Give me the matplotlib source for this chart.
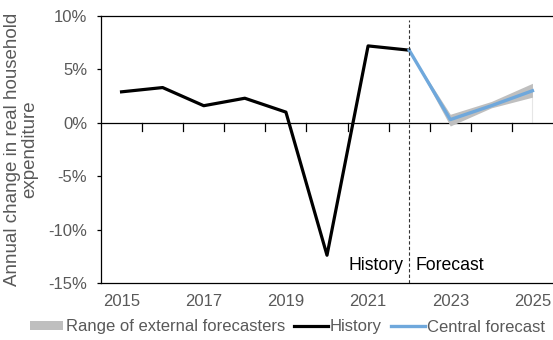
import matplotlib.pyplot as plt
import numpy as np

plt.rcParams['font.family'] = ['Liberation Sans', 'DejaVu Sans']
plt.rcParams['font.size'] = 12

# annual change in real household expenditure, %
hist_years = [2015, 2016, 2017, 2018, 2019, 2020, 2021, 2022]
hist_vals = [2.9, 3.3, 1.6, 2.3, 1.0, -12.4, 7.2, 6.8]

fc_years = [2022, 2023, 2024, 2025]
fc_central = [6.8, 0.3, 1.6, 3.0]
fc_low = [6.8, -0.3, 1.4, 2.4]
fc_high = [6.8, 0.8, 2.0, 3.7]

yticks = [10, 5, 0, -5, -10, -15]
xticks = [2015, 2017, 2019, 2021, 2023, 2025]

txt = '#595959'
fig = plt.figure(figsize=(5.53, 3.40), dpi=100)
ax = fig.add_axes([101 / 553, 57 / 340, 452 / 553, 267 / 340])

ax.fill_between(fc_years, fc_low, fc_high, color='#bfbfbf', lw=0,
                label='Range of external forecasters', zorder=2)
ax.plot([fc_years[-1]] * 2, [0, fc_low[-1]], color='#e6e6e6', lw=0.8, zorder=1)
ax.plot(hist_years, hist_vals, color='black', lw=2.3, label='History', zorder=3)
ax.plot(fc_years, fc_central, color='#6fa8dc', lw=2.4, label='Central forecast', zorder=4)

ax.axvline(2022, ymax=0.985, color='#333333', lw=0.8, ls=(0, (3, 2)), zorder=5)
ax.axhline(0, color='black', lw=0.9, zorder=1)
# category boundary ticks on the zero line
for b in np.arange(2015.5, 2025.5, 1):
    ax.plot([b, b], [0, -0.75], color='black', lw=0.9, zorder=1)

ax.text(2021.85, -13.4, 'History', ha='right', va='center', fontsize=12.7, color='black')
ax.text(2022.15, -13.4, 'Forecast', ha='left', va='center', fontsize=12.7, color='black')

ax.set_xlim(2014.5, 2025.5)
ax.set_ylim(-15, 10)
ax.set_yticks(yticks)
ax.set_yticklabels([f'{v}%' for v in yticks], color=txt)
ax.set_xticks(xticks)
ax.set_xticklabels([str(v) for v in xticks], color=txt)
ax.tick_params(axis='x', length=0, pad=8)
ax.tick_params(axis='y', length=3, width=0.9, pad=7)
ax.spines['right'].set_visible(False)
for s in ['left', 'top', 'bottom']:
    ax.spines[s].set_linewidth(0.9)

fig.text(21 / 553, 1 - 149 / 340, 'Annual change in real household\nexpenditure',
         rotation=90, ha='center', va='center', color=txt, fontsize=13.5,
         linespacing=1.05)

fig.legend(loc='center left', bbox_to_anchor=(30 / 553, 1 - 327 / 340), ncol=3,
           frameon=False, labelcolor=txt, borderpad=0, borderaxespad=0,
           handlelength=2.0, handleheight=0.5, handletextpad=0.15,
           columnspacing=0.55)

fig.savefig('out.png', dpi=100)
